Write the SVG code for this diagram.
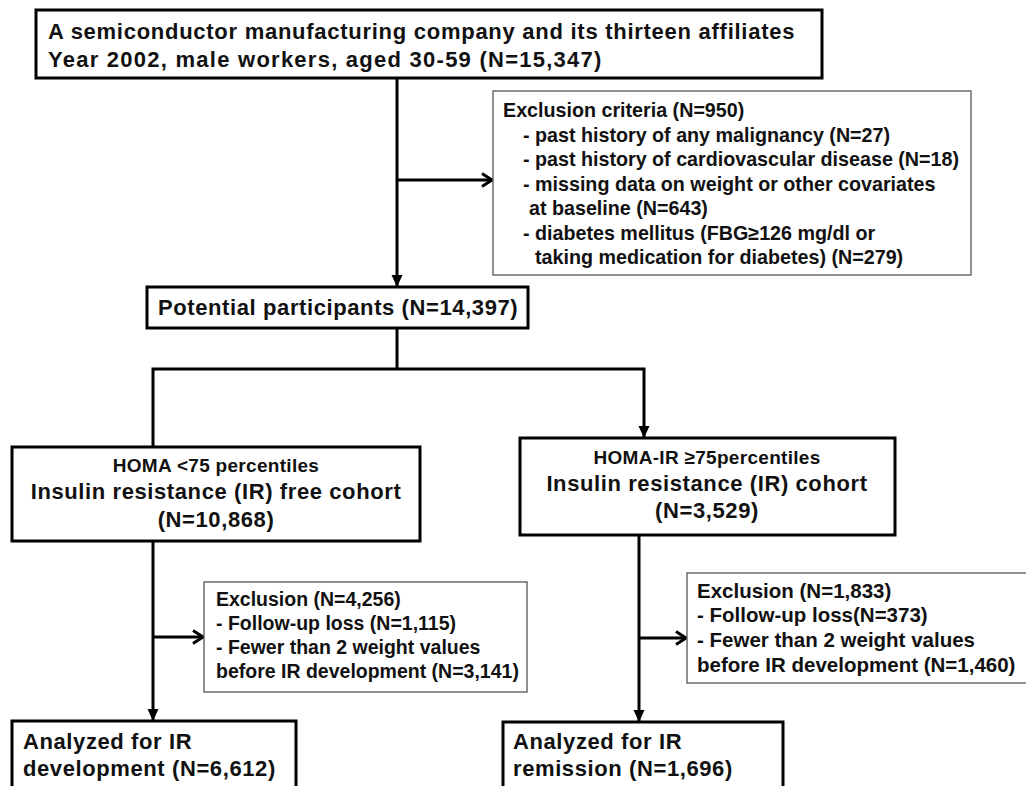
<svg xmlns="http://www.w3.org/2000/svg" width="1026" height="786" viewBox="0 0 1026 786">
<style>
.big{font-family:"Liberation Sans",Arial,sans-serif;font-weight:bold;font-size:22px;letter-spacing:0.6px;fill:#111}
.mid{font-family:"Liberation Sans",Arial,sans-serif;font-weight:bold;font-size:19.7px;fill:#111}
.ex{font-family:"Liberation Sans",Arial,sans-serif;font-weight:bold;font-size:19.5px;fill:#111}
.exr{font-family:"Liberation Sans",Arial,sans-serif;font-weight:bold;font-size:20.5px;fill:#111}
.sm{font-family:"Liberation Sans",Arial,sans-serif;font-weight:bold;font-size:19px;letter-spacing:0.3px;fill:#111}
.thick{fill:#fff;stroke:#000;stroke-width:3}
.thin{fill:#fff;stroke:#555;stroke-width:1.3}
.conn{fill:none;stroke:#000;stroke-width:3}
</style>
<defs>
<marker id="down" markerUnits="userSpaceOnUse" markerWidth="12" markerHeight="12" viewBox="0 0 12 12" refX="11" refY="6" orient="auto">
<path d="M0,0.5 L12,6 L0,11.5 Z" fill="#000"/>
</marker>
<marker id="chev" markerUnits="userSpaceOnUse" markerWidth="14" markerHeight="16" viewBox="0 0 14 16" refX="12" refY="8" orient="auto">
<path d="M2,1.5 L12,8 L2,14.5" fill="none" stroke="#000" stroke-width="3"/>
</marker>
</defs>
<rect width="1026" height="786" fill="#fff"/>
<g id="connectors">
<line class="conn" x1="397" y1="78" x2="397" y2="286" marker-end="url(#down)"/>
<line class="conn" x1="397" y1="180" x2="492" y2="180" marker-end="url(#chev)"/>
<line class="conn" x1="397" y1="328" x2="397" y2="369"/>
<polyline class="conn" points="153,446 153,369 644,369 644,437" marker-end="url(#down)"/>
<line class="conn" x1="153" y1="541" x2="153" y2="720" marker-end="url(#down)"/>
<line class="conn" x1="153" y1="637" x2="203" y2="637" marker-end="url(#chev)"/>
<line class="conn" x1="639" y1="535" x2="639" y2="721" marker-end="url(#down)"/>
<line class="conn" x1="639" y1="638" x2="686" y2="638" marker-end="url(#chev)"/>
</g>
<g id="source">
<rect class="thick" x="36" y="10" width="786" height="68"/>
<text class="big" x="48" y="39" textLength="747" lengthAdjust="spacing">A semiconductor manufacturing company and its thirteen affiliates</text>
<text class="big" x="48" y="67" textLength="554" lengthAdjust="spacing">Year 2002, male workers, aged 30-59 (N=15,347)</text>
</g>
<g id="exclusion-criteria">
<rect class="thin" x="493" y="91" width="478" height="184"/>
<text class="mid" x="503" y="117">Exclusion criteria (N=950)</text>
<text class="mid" x="523" y="141.5">- past history of any malignancy (N=27)</text>
<text class="mid" x="523" y="166">- past history of cardiovascular disease (N=18)</text>
<text class="mid" x="523" y="190.5">- missing data on weight or other covariates</text>
<text class="mid" x="529" y="215">at baseline (N=643)</text>
<text class="mid" x="523" y="239.5">- diabetes mellitus (FBG≥126 mg/dl or</text>
<text class="mid" x="535" y="264">taking medication for diabetes) (N=279)</text>
</g>
<g id="potential">
<rect class="thick" x="147" y="287" width="381" height="41"/>
<text class="big" x="158" y="315">Potential participants (N=14,397)</text>
</g>
<g id="ir-free">
<rect class="thick" x="12" y="447" width="408" height="94"/>
<text class="sm" x="216" y="472" text-anchor="middle">HOMA &lt;75 percentiles</text>
<text class="big" x="216" y="499" text-anchor="middle">Insulin resistance (IR) free cohort</text>
<text class="big" x="216" y="527" text-anchor="middle">(N=10,868)</text>
</g>
<g id="ir">
<rect class="thick" x="520" y="438" width="375" height="97"/>
<text class="sm" x="707" y="464" text-anchor="middle">HOMA-IR ≥75percentiles</text>
<text class="big" x="707" y="491" text-anchor="middle">Insulin resistance (IR) cohort</text>
<text class="big" x="707" y="518" text-anchor="middle">(N=3,529)</text>
</g>
<g id="exclusion-left">
<rect class="thin" x="204" y="582" width="323" height="110"/>
<text class="ex" x="216" y="606">Exclusion (N=4,256)</text>
<text class="ex" x="216" y="630">- Follow-up loss (N=1,115)</text>
<text class="ex" x="216" y="654">- Fewer than 2 weight values</text>
<text class="ex" x="216" y="678">before IR development (N=3,141)</text>
</g>
<g id="exclusion-right">
<rect class="thin" x="687" y="573" width="345" height="110"/>
<text class="exr" x="697" y="598">Exclusion (N=1,833)</text>
<text class="exr" x="697" y="622">- Follow-up loss(N=373)</text>
<text class="exr" x="697" y="647">- Fewer than 2 weight values</text>
<text class="exr" x="697" y="672">before IR development (N=1,460)</text>
</g>
<g id="analyzed-dev">
<rect class="thick" x="12" y="721" width="284" height="80"/>
<text class="big" x="23" y="749">Analyzed for IR</text>
<text class="big" x="23" y="776">development (N=6,612)</text>
</g>
<g id="analyzed-rem">
<rect class="thick" x="503" y="722" width="280" height="80"/>
<text class="big" x="513" y="749">Analyzed for IR</text>
<text class="big" x="513" y="776">remission (N=1,696)</text>
</g>
</svg>
